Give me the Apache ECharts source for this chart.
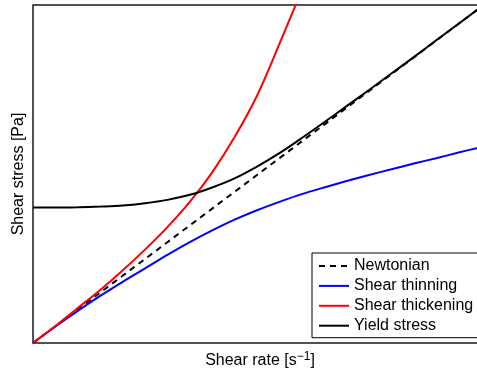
<!DOCTYPE html>
<html>
<head>
<meta charset="utf-8">
<script src="https://cdn.jsdelivr.net/npm/echarts@6/dist/echarts.min.js"></script>
<style>
html,body{margin:0;padding:0;overflow:hidden;background:#fff;width:477px;height:372px}
#c{width:481px;height:372px}
</style>
</head>
<body>
<div id="c"></div>
<script>
// Shear rate sample points (arbitrary units, no tick labels in the original)
const shearRate = [0,5,10,15,20,25,30,35,40,45,50,55,60,65,70,75,80,85,90,95,100];
const newtonian = [0,5,10,15,20,25,30,35,40,45,50,55,60,65,70,75,80,85,90,95,100];
const shearThinning = [0,4.9,9.55,14.0,18.2,22.2,26.2,30.0,33.5,36.7,39.5,42.0,44.3,46.3,48.2,50.0,51.7,53.4,55.0,56.7,58.3];
const thickeningRate = [0,5,10,15,20,25,30,35,40,45,50,55,60];
const shearThickening = [0,5.05,10.4,15.8,21.6,27.8,34.5,42.0,50.8,61.3,73.6,89.0,105.0];
const yieldStress = [40.3,40.3,40.4,40.6,40.9,41.6,42.6,44.1,46.3,49.0,52.5,56.5,61.0,65.7,70.5,75.3,80.2,85.1,90.1,95.0,100.0];
const seriesNames = ['Newtonian','Shear thinning','Shear thickening','Yield stress'];

const FONT = '"Liberation Sans", Arial, Helvetica, sans-serif';
const pairs = (xs, ys) => xs.map((x, i) => [x, ys[i]]);

const chart = echarts.init(document.getElementById('c'), null, {renderer: 'canvas'});
chart.setOption({
  animation: false,
  backgroundColor: '#fff',
  grid: {
    left: 33, top: 5, right: 0, bottom: 29,
    show: true, borderColor: '#1a1a1a', borderWidth: 1.5, backgroundColor: 'transparent'
  },
  xAxis: {
    type: 'value', min: 0, max: 100,
    axisLine: {show: false}, axisTick: {show: false}, axisLabel: {show: false}, splitLine: {show: false}
  },
  yAxis: {
    type: 'value', min: 0, max: 100.6,
    axisLine: {show: false}, axisTick: {show: false}, axisLabel: {show: false}, splitLine: {show: false}
  },
  legend: {
    orient: 'vertical',
    left: 312, top: 253,
    itemWidth: 30, itemHeight: 10, itemGap: 3.9,
    padding: [5, 40, 4, 6],
    borderColor: '#000', borderWidth: 1, backgroundColor: '#fff',
    itemStyle: {opacity: 0},
    textStyle: {fontSize: 16, fontFamily: FONT, color: '#000', lineHeight: 16},
    data: seriesNames
  },
  series: [
    {
      name: seriesNames[0], type: 'line', data: pairs(shearRate, newtonian),
      symbol: 'none', smooth: false,
      lineStyle: {color: '#000', width: 2, type: [6, 5]}, itemStyle: {color: '#000'}
    },
    {
      name: seriesNames[1], type: 'line', data: pairs(shearRate, shearThinning),
      symbol: 'none', smooth: 0.3,
      lineStyle: {color: '#0000ff', width: 2}, itemStyle: {color: '#0000ff'}
    },
    {
      name: seriesNames[2], type: 'line', data: pairs(thickeningRate, shearThickening),
      symbol: 'none', smooth: 0.3, clip: true,
      lineStyle: {color: '#ff0000', width: 2}, itemStyle: {color: '#ff0000'}
    },
    {
      name: seriesNames[3], type: 'line', data: pairs(shearRate, yieldStress),
      symbol: 'none', smooth: 0.3,
      lineStyle: {color: '#000', width: 2}, itemStyle: {color: '#000'}
    }
  ],
  graphic: [
    {
      type: 'text', x: 19, y: 174, rotation: Math.PI / 2,
      style: {text: 'Shear stress [Pa]', fontSize: 16, fontFamily: FONT, fill: '#000',
              align: 'center', verticalAlign: 'middle'}
    },
    {
      type: 'text', x: 260, y: 361,
      style: {
        text: '{a|Shear rate [s}{b|\u22121}{a|]}',
        align: 'center', verticalAlign: 'middle', fill: '#000',
        rich: {
          a: {fontSize: 16, fontFamily: FONT, lineHeight: 20, fill: '#000'},
          b: {fontSize: 12, fontFamily: FONT, lineHeight: 12, verticalAlign: 'top', fill: '#000'}
        }
      }
    }
  ]
});
</script>
</body>
</html>
